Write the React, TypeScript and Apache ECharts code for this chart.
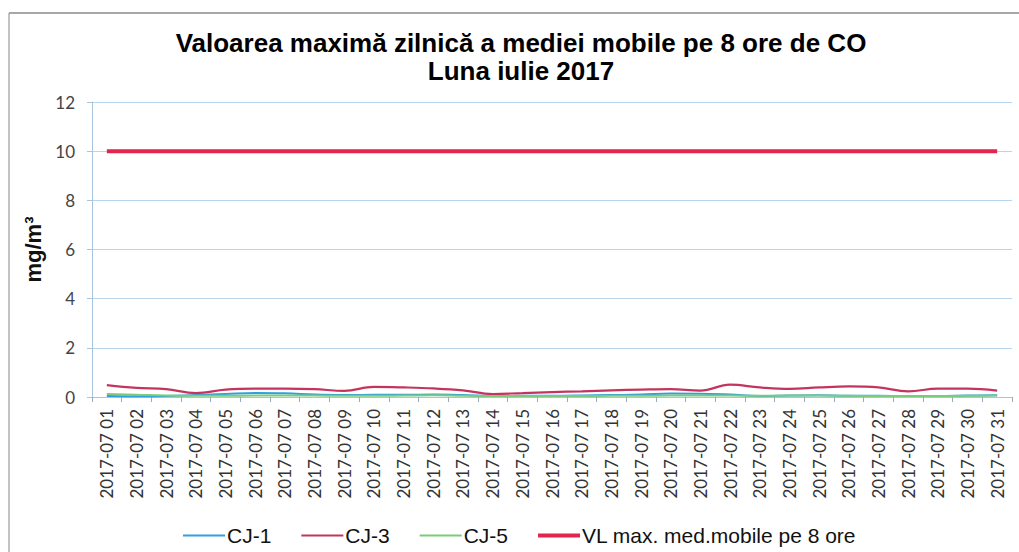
import React, { useEffect, useRef } from "react";
import * as echarts from "echarts";

const categories = [
  "2017-07 01", "2017-07 02", "2017-07 03", "2017-07 04", "2017-07 05", "2017-07 06", "2017-07 07",
  "2017-07 08", "2017-07 09", "2017-07 10", "2017-07 11", "2017-07 12", "2017-07 13", "2017-07 14",
  "2017-07 15", "2017-07 16", "2017-07 17", "2017-07 18", "2017-07 19", "2017-07 20", "2017-07 21",
  "2017-07 22", "2017-07 23", "2017-07 24", "2017-07 25", "2017-07 26", "2017-07 27", "2017-07 28",
  "2017-07 29", "2017-07 30", "2017-07 31",
];

const cj1 = [0.04, 0.03, 0.04, 0.08, 0.12, 0.16, 0.15, 0.1, 0.08, 0.09, 0.09, 0.1, 0.08, 0.04, 0.05, 0.05, 0.06, 0.08, 0.1, 0.14, 0.13, 0.1, 0.04, 0.06, 0.07, 0.05, 0.05, 0.04, 0.04, 0.06, 0.07];
const cj3 = [0.48, 0.37, 0.32, 0.16, 0.3, 0.34, 0.34, 0.32, 0.25, 0.41, 0.39, 0.35, 0.27, 0.12, 0.16, 0.2, 0.23, 0.27, 0.3, 0.32, 0.26, 0.5, 0.39, 0.33, 0.39, 0.43, 0.39, 0.23, 0.34, 0.34, 0.26];
const cj5 = [0.12, 0.09, 0.06, 0.05, 0.05, 0.06, 0.06, 0.06, 0.05, 0.05, 0.06, 0.07, 0.05, 0.04, 0.04, 0.04, 0.04, 0.05, 0.05, 0.06, 0.06, 0.06, 0.05, 0.06, 0.06, 0.05, 0.04, 0.04, 0.04, 0.05, 0.06];
const vl = categories.map(() => 10);

const seriesNames = ["CJ-1", "CJ-3", "CJ-5", "VL max. med.mobile pe 8 ore"];

export default function App() {
  const ref = useRef<HTMLDivElement>(null);
  useEffect(() => {
    document.body.style.margin = "0";
    const chart = echarts.init(ref.current!, null, { renderer: "svg" });
    const font = "Lato, 'DejaVu Sans', sans-serif";
    const arial = "'Liberation Sans', Arial, sans-serif";
    const thin = "path://M0,0H42V2H0Z";
    const thick = "path://M0,0H42V4H0Z";
    chart.setOption({
      animation: false,
      backgroundColor: "#ffffff",
      title: {
        text: "Valoarea maximă zilnică a mediei mobile pe 8 ore de CO\nLuna iulie 2017",
        left: 521,
        textAlign: "center",
        top: 29,
        padding: 0,
        textStyle: {
          fontFamily: arial,
          fontWeight: "bold",
          fontSize: 26,
          lineHeight: 28,
          color: "#000",
        },
      },
      graphic: [
        { type: "line", shape: { x1: 9, y1: 13, x2: 1019, y2: 13 }, style: { stroke: "#8a8a8a", lineWidth: 1.5 } },
        { type: "line", shape: { x1: 9, y1: 13, x2: 9, y2: 552 }, style: { stroke: "#9a9a9a", lineWidth: 1.2 } },
      ],
      legend: {
        data: [
          { name: seriesNames[0], icon: thin },
          { name: seriesNames[1], icon: thin },
          { name: seriesNames[2], icon: thin },
          { name: seriesNames[3], icon: thick },
        ],
        left: 178,
        top: 520,
        itemWidth: 42,
        itemHeight: 18,
        itemGap: 30,
        textStyle: { fontFamily: arial, fontSize: 21, color: "#111", padding: [0, 0, 0, -3] },
      },
      grid: { left: 92, right: 7, top: 102, bottom: 155, containLabel: false },
      xAxis: {
        type: "category",
        data: categories,
        boundaryGap: true,
        axisLine: { lineStyle: { color: "#a9c4de", width: 1 } },
        axisTick: { show: true, interval: 0, length: 5, lineStyle: { color: "#9aa8b8" } },
        axisLabel: { interval: 0, rotate: 90, margin: 12, fontFamily: font, fontSize: 17, color: "#333" },
      },
      yAxis: {
        type: "value",
        min: 0,
        max: 12,
        interval: 2,
        name: "mg/m³",
        nameLocation: "middle",
        nameGap: 41,
        nameRotate: 90,
        nameTextStyle: { fontFamily: arial, fontWeight: "bold", fontSize: 22, color: "#111" },
        axisLine: { show: true, lineStyle: { color: "#a9c4de" } },
        axisTick: { show: true, length: 5, lineStyle: { color: "#a9c4de" } },
        axisLabel: { margin: 17, fontFamily: font, fontSize: 17, color: "#444" },
        splitLine: { lineStyle: { color: "#b9d5ee", width: 1 } },
      },
      series: [
        { name: seriesNames[0], type: "line", data: cj1, smooth: 0.4, showSymbol: false, symbol: "none", color: "#2f9fe0", lineStyle: { width: 2, color: "#2f9fe0" } },
        { name: seriesNames[1], type: "line", data: cj3, smooth: 0.4, showSymbol: false, symbol: "none", color: "#c4345e", lineStyle: { width: 2.2, color: "#c4345e" } },
        { name: seriesNames[2], type: "line", data: cj5, smooth: 0.4, showSymbol: false, symbol: "none", color: "#7ccb7a", lineStyle: { width: 2, color: "#7ccb7a" } },
        { name: seriesNames[3], type: "line", data: vl, showSymbol: false, symbol: "none", color: "#e2244e", lineStyle: { width: 4, color: "#e2244e" } },
      ],
    });
    return () => chart.dispose();
  }, []);
  return <div ref={ref} style={{ width: 1019, height: 552 }} />;
}
